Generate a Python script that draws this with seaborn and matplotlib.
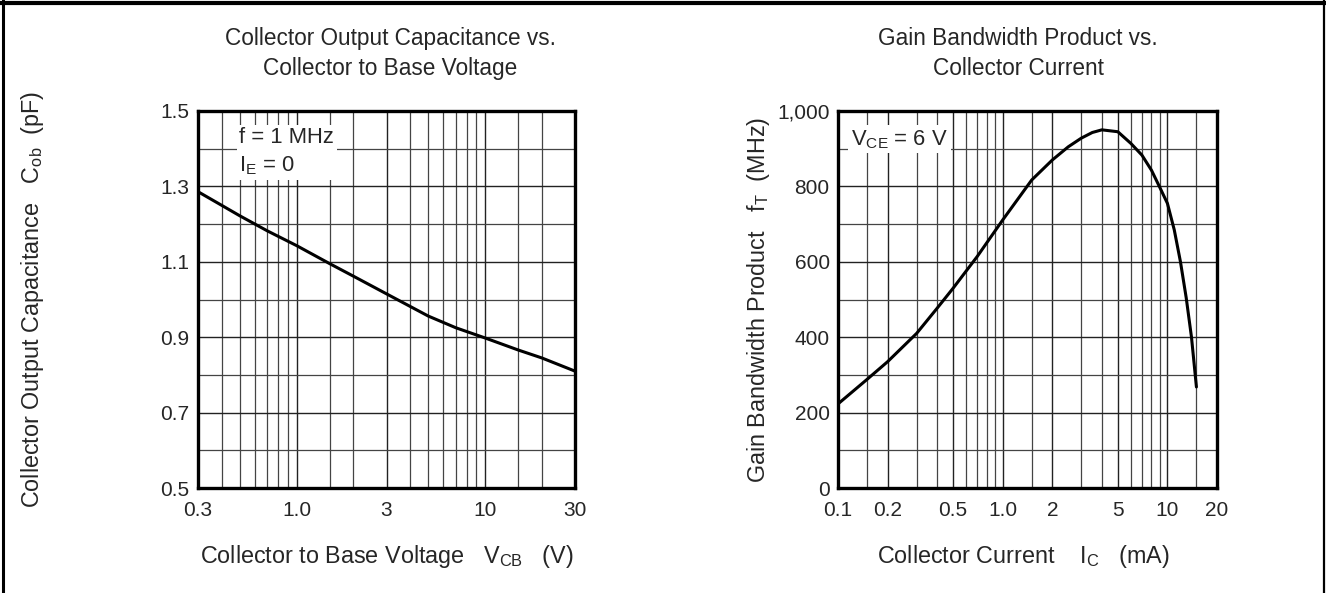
import numpy as np
import pandas as pd
import matplotlib
matplotlib.use("Agg")
import matplotlib.pyplot as plt
import seaborn as sns
from matplotlib.ticker import FixedLocator, FixedFormatter, NullFormatter
from matplotlib.lines import Line2D

# --- data ---
# left: collector output capacitance vs collector-base voltage
vcb = [0.3, 0.4, 0.5, 0.7, 1.0, 1.5, 2, 3, 5, 7, 10, 15, 20, 30]
cob = [1.286, 1.25, 1.222, 1.182, 1.143, 1.095, 1.062, 1.015, 0.956, 0.925, 0.898, 0.866, 0.845, 0.81]

# right: gain bandwidth product vs collector current
ic = [0.1, 0.15, 0.2, 0.3, 0.4, 0.5, 0.7, 1.0, 1.5, 2, 2.5, 3, 3.5, 4, 5, 6, 7, 8, 9, 10, 11, 12, 13, 14, 15]
ft = [223, 288, 335, 410, 477, 530, 614, 711, 817, 870, 905, 928, 943, 950, 945, 914, 883, 843, 797, 755,
      685, 600, 505, 400, 268]

# axis ticks / labels
left_xticks = [0.3, 1.0, 3, 10, 30]
left_xlabels = ["0.3", "1.0", "3", "10", "30"]
left_xgrid = [0.4, 0.5, 0.6, 0.7, 0.8, 0.9, 1.5, 2, 3, 4, 5, 6, 7, 8, 9, 15, 20]
left_yticks = [0.5, 0.7, 0.9, 1.1, 1.3, 1.5]
left_ygrid = [0.6, 0.8, 1.0, 1.2, 1.4]

right_xticks = [0.1, 0.2, 0.5, 1.0, 2, 5, 10, 20]
right_xlabels = ["0.1", "0.2", "0.5", "1.0", "2", "5", "10", "20"]
right_xgrid = [0.15, 0.2, 0.3, 0.4, 0.5, 0.6, 0.7, 0.8, 0.9,
               1.5, 2, 3, 4, 5, 6, 7, 8, 9, 15]
right_yticks = [0, 200, 400, 600, 800, 1000]
right_ylabels = ["0", "200", "400", "600", "800", "1,000"]
right_ygrid = [100, 300, 500, 700, 900]

sns.set_style("white")
plt.rcParams['font.family'] = ['Liberation Sans', 'DejaVu Sans']
plt.rcParams['mathtext.fontset'] = 'custom'
plt.rcParams['mathtext.rm'] = 'Liberation Sans'

TITLE_FS = 16.3
LABEL_FS = 16.8
TICK_FS = 15
NOTE_FS = 15.8

fig = plt.figure(figsize=(13.26, 5.93), dpi=100)
ax1 = fig.add_axes([198 / 1326, 105 / 593, 377 / 1326, 377 / 593])
ax2 = fig.add_axes([838 / 1326, 105 / 593, 379 / 1326, 377 / 593])

df1 = pd.DataFrame({"VCB": vcb, "Cob": cob})
df2 = pd.DataFrame({"IC": ic, "fT": ft})


def style_axes(ax, xticks, xlabels, xgrid, yticks, ylabels, ygrid):
    ax.set_xscale("log")
    ax.xaxis.set_major_locator(FixedLocator(xticks))
    ax.xaxis.set_major_formatter(FixedFormatter(xlabels))
    ax.xaxis.set_minor_locator(FixedLocator(xgrid))
    ax.xaxis.set_minor_formatter(NullFormatter())
    ax.yaxis.set_major_locator(FixedLocator(yticks))
    ax.yaxis.set_major_formatter(FixedFormatter(ylabels))
    ax.yaxis.set_minor_locator(FixedLocator(ygrid))
    ax.grid(True, which="major", color="#222222", lw=1.0)
    ax.grid(True, which="minor", color="#444444", lw=0.9)
    ax.tick_params(which="both", length=0, labelsize=TICK_FS)
    ax.tick_params(axis="x", pad=9)
    ax.tick_params(axis="y", pad=6)
    for sp in ax.spines.values():
        sp.set_linewidth(2.4)
        sp.set_color("black")
        sp.set_zorder(5)
    ax.set_axisbelow(True)


# left panel
ax1.set_xscale("log")
sns.lineplot(data=df1, x="VCB", y="Cob", ax=ax1, color="black", lw=2.2, sort=False)
ax1.set_xlim(0.3, 30)
ax1.set_ylim(0.5, 1.5)
style_axes(ax1, left_xticks, left_xlabels, left_xgrid,
           left_yticks, [f"{v:.1f}" for v in left_yticks], left_ygrid)
t1 = ax1.set_title("Collector Output Capacitance vs.\nCollector to Base Voltage",
                   fontsize=TITLE_FS, linespacing=1.4, pad=26)
t1.set_x(0.51)
ax1.set_xlabel(r"Collector to Base Voltage   V$_{\mathregular{CB}}$   (V)", fontsize=LABEL_FS)
ax1.set_ylabel(r"Collector Output Capacitance   C$_{\mathregular{ob}}$  (pF)", fontsize=LABEL_FS)
ax1.xaxis.set_label_coords(0.5, -0.183)
ax1.xaxis.label.set_va("center")
ax1.yaxis.set_label_coords(-0.44, 0.5)
ax1.yaxis.label.set_va("center")
ax1.text(0.11, 0.958, "f = 1 MHz\nI$_{\\mathregular{E}}$ = 0", transform=ax1.transAxes,
         ha="left", va="top", fontsize=NOTE_FS, linespacing=1.4, zorder=6,
         bbox=dict(facecolor="white", edgecolor="none", pad=2))

# right panel
ax2.set_xscale("log")
sns.lineplot(data=df2, x="IC", y="fT", ax=ax2, color="black", lw=2.2, sort=False)
ax2.set_xlim(0.1, 20)
ax2.set_ylim(0, 1000)
style_axes(ax2, right_xticks, right_xlabels, right_xgrid,
           right_yticks, right_ylabels, right_ygrid)
t2 = ax2.set_title("Gain Bandwidth Product vs.\nCollector Current",
                   fontsize=TITLE_FS, linespacing=1.4, pad=26)
t2.set_x(0.475)
ax2.set_xlabel(r"Collector Current    I$_{\mathregular{C}}$   (mA)", fontsize=LABEL_FS)
ax2.set_ylabel(r"Gain Bandwidth Product   f$_{\mathregular{T}}$  (MHz)", fontsize=LABEL_FS)
ax2.xaxis.set_label_coords(0.49, -0.183)
ax2.xaxis.label.set_va("center")
ax2.yaxis.set_label_coords(-0.21, 0.5)
ax2.yaxis.label.set_va("center")
ax2.text(0.035, 0.925, "V$_{\\mathregular{CE}}$ = 6 V", transform=ax2.transAxes,
         ha="left", va="center", fontsize=NOTE_FS, zorder=6,
         bbox=dict(facecolor="white", edgecolor="none", pad=2))

# page frame (top, left, right edges)
fig.add_artist(Line2D([0, 1], [0.995, 0.995], transform=fig.transFigure, color="black", lw=3))
fig.add_artist(Line2D([0.002, 0.002], [0, 1], transform=fig.transFigure, color="black", lw=2.2))
fig.add_artist(Line2D([0.9985, 0.9985], [0, 1], transform=fig.transFigure, color="black", lw=1.6))

fig.savefig("out.png", dpi=100)
